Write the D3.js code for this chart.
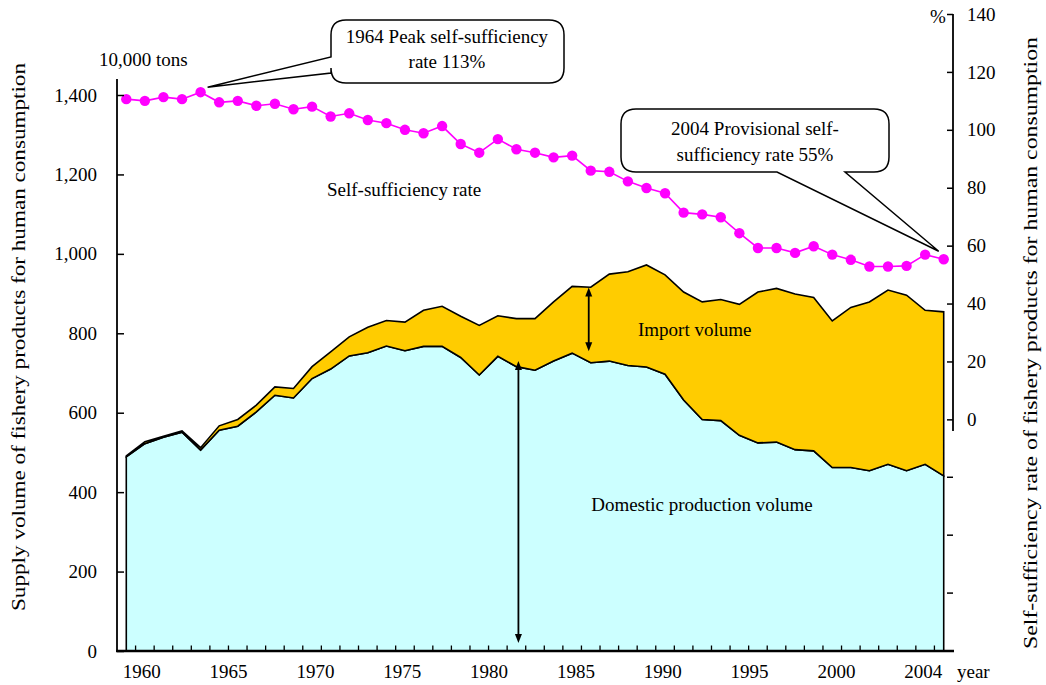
<!DOCTYPE html>
<html>
<head>
<meta charset="utf-8">
<script src="https://cdn.jsdelivr.net/npm/d3@7"></script>
<style>
  body { margin: 0; background: #fff; }
  svg { display: block; }
  text { font-family: "Liberation Serif", "Times New Roman", serif; font-size: 19px; fill: #000; }
</style>
</head>
<body>
<svg id="chart" width="1046" height="685"></svg>
<script>
// Categories (years)
const years = d3.range(1960, 2005);

// Domestic production volume (10,000 tons)
const domestic = [489, 522, 538, 551, 506, 556, 566, 602, 644, 637,
                  686, 710, 743, 751, 768, 756, 767, 767, 739, 695,
                  742, 716, 707, 730, 750, 726, 730, 719, 715, 697,
                  632, 583, 580, 543, 524, 526, 507, 504, 462, 462,
                  454, 470, 454, 470, 441];

// Import volume (10,000 tons), stacked on domestic
const imports = [2, 5, 3, 3, 6, 11, 17, 17, 21, 24,
                 30, 43, 48, 64, 64, 72, 91, 101, 104, 125,
                 102, 121, 130, 149, 168, 190, 219, 236, 257, 250,
                 272, 296, 305, 330, 380, 387, 392, 386, 369, 403,
                 425, 439, 442, 388, 413];

// Self-sufficiency rate (%)
const rate = [110.6, 110.0, 111.3, 110.6, 113.0, 109.5, 110.0, 108.3, 109.0, 107.1,
              108.0, 104.6, 105.7, 103.4, 102.3, 100.0, 98.8, 101.3, 95.1, 92.1,
              96.8, 93.3, 92.1, 90.5, 91.1, 85.9, 85.5, 82.2, 79.9, 78.1,
              71.4, 70.8, 69.8, 64.3, 59.2, 59.2, 57.5, 59.8, 56.9, 55.1,
              52.8, 52.8, 53.0, 56.9, 55.3];

// Tick labels
const xLabels = ['1960', '1965', '1970', '1975', '1980', '1985', '1990', '1995', '2000', '2004'];
const leftTicks = [0, 200, 400, 600, 800, 1000, 1200, 1400];
const rightTicks = [0, 20, 40, 60, 80, 100, 120, 140];
const rightMinorTicks = [-20, -40, -60];

const svg = d3.select('#chart');

// Scales
const x = d3.scaleBand().domain(years).range([117, 953]);
const xc = d => x(d) + x.bandwidth() / 2;
const yL = d3.scaleLinear().domain([0, 1400]).range([651, 95]);
const yR = d3.scaleLinear().domain([-80, 140]).range([651, 14]);
const xLab = d3.scalePoint().domain(xLabels).range([141.7, 923.3]);

// Stacked areas
const rows = years.map((yr, i) => ({ year: yr, domestic: domestic[i], imports: imports[i] }));
const series = d3.stack().keys(['domestic', 'imports'])(rows);
const fills = { domestic: '#CCFFFF', imports: '#FFCC00' };

const area = d3.area()
    .x(d => xc(d.data.year))
    .y0(d => yL(d[0]))
    .y1(d => yL(d[1]));

svg.append('g')
    .selectAll('path')
    .data(series)
    .enter()
    .append('path')
    .attr('d', area)
    .attr('fill', d => fills[d.key])
    .attr('stroke', '#000')
    .attr('stroke-width', 1.6)
    .attr('stroke-linejoin', 'miter');

// Arrow helper (double headed)
function arrow(x0, y0, y1) {
    const g = svg.append('g');
    const head = 9, half = 3.5;
    g.append('line')
        .attr('x1', x0).attr('x2', x0)
        .attr('y1', y0 + head - 1).attr('y2', y1 - head + 1)
        .attr('stroke', '#000').attr('stroke-width', 1.8);
    g.append('path')
        .attr('d', `M${x0},${y1} L${x0 - half},${y1 - head} L${x0 + half},${y1 - head} Z`)
        .attr('fill', '#000');
    g.append('path')
        .attr('d', `M${x0},${y0} L${x0 - half},${y0 + head} L${x0 + half},${y0 + head} Z`)
        .attr('fill', '#000');
}

// import volume indicator and domestic volume indicator
arrow(xc(1985) - 2, yL(915), yL(755));
arrow(xc(1981) + 2, yL(730), yL(20));

// Self-sufficiency line
const line = d3.line()
    .x((d, i) => xc(years[i]))
    .y(d => yR(d));

svg.append('path')
    .datum(rate)
    .attr('d', line)
    .attr('fill', 'none')
    .attr('stroke', '#FF00FF')
    .attr('stroke-width', 1.6);

svg.append('g')
    .selectAll('circle')
    .data(rate)
    .enter()
    .append('circle')
    .attr('cx', (d, i) => xc(years[i]))
    .attr('cy', d => yR(d))
    .attr('r', 5.2)
    .attr('fill', '#FF00FF');

// Left axis
svg.append('g')
    .attr('transform', 'translate(117,0)')
    .call(d3.axisLeft(yL)
        .tickValues(leftTicks)
        .tickFormat(d3.format(','))
        .tickSizeInner(-7)
        .tickSizeOuter(0)
        .tickPadding(20))
    .call(g => g.select('.domain').remove())
    .call(g => g.selectAll('.tick line').attr('stroke-width', 1.5));

svg.append('line')
    .attr('x1', 117).attr('x2', 117)
    .attr('y1', 79).attr('y2', 651)
    .attr('stroke', '#000').attr('stroke-width', 1.8);

// Right axis
svg.append('g')
    .attr('transform', 'translate(953,0)')
    .call(d3.axisRight(yR)
        .tickValues(rightTicks)
        .tickSizeInner(-6)
        .tickSizeOuter(0)
        .tickPadding(14))
    .call(g => g.select('.domain').remove())
    .call(g => g.selectAll('.tick line').attr('stroke-width', 1.5));

svg.append('line')
    .attr('x1', 953).attr('x2', 953)
    .attr('y1', yR(140)).attr('y2', yR(-4))
    .attr('stroke', '#000').attr('stroke-width', 1.8);

svg.append('g')
    .selectAll('line')
    .data(rightMinorTicks)
    .enter()
    .append('line')
    .attr('x1', 947).attr('x2', 953)
    .attr('y1', d => yR(d)).attr('y2', d => yR(d))
    .attr('stroke', '#000').attr('stroke-width', 1.5);

// Bottom axis
svg.append('g')
    .selectAll('line')
    .data(years.slice(1))
    .enter()
    .append('line')
    .attr('x1', d => x(d)).attr('x2', d => x(d))
    .attr('y1', 651).attr('y2', 645.5)
    .attr('stroke', '#000').attr('stroke-width', 1.3);

svg.append('line')
    .attr('x1', 116).attr('x2', 954)
    .attr('y1', 651).attr('y2', 651)
    .attr('stroke', '#000').attr('stroke-width', 2.6);

svg.append('g')
    .selectAll('text')
    .data(xLabels)
    .enter()
    .append('text')
    .attr('x', d => xLab(d))
    .attr('y', 678)
    .attr('text-anchor', 'middle')
    .text(d => d);

svg.append('text').attr('x', 957).attr('y', 678).text('year');
svg.append('text').attr('x', 99).attr('y', 66).text('10,000 tons');
svg.append('text').attr('x', 938).attr('y', 23).attr('text-anchor', 'middle').text('%');

// Axis titles (stretched along the axis as in the original)
svg.append('text')
    .attr('transform', 'translate(25,337) rotate(-90)')
    .attr('text-anchor', 'middle')
    .attr('textLength', 548)
    .attr('lengthAdjust', 'spacingAndGlyphs')
    .text('Supply volume of fishery products for human consumption');

svg.append('text')
    .attr('transform', 'translate(1037,343) rotate(-90)')
    .attr('text-anchor', 'middle')
    .attr('textLength', 612)
    .attr('lengthAdjust', 'spacingAndGlyphs')
    .text('Self-sufficiency rate of fishery products for human consumption');

// Series labels
svg.append('text').attr('x', 327).attr('y', 196).text('Self-sufficiency rate');
svg.append('text').attr('x', 638).attr('y', 336).text('Import volume');
svg.append('text').attr('x', 702).attr('y', 511).attr('text-anchor', 'middle').text('Domestic production volume');

// Callouts (speech bubbles)
function bubble(x0, y0, x1, y1, r, pointer) {
    let p = `M${x0 + r},${y0} H${x1 - r} Q${x1},${y0} ${x1},${y0 + r} V${y1 - r} Q${x1},${y1} ${x1 - r},${y1}`;
    if (pointer.side === 'bottom') {
        p += ` H${pointer.b} L${pointer.tx},${pointer.ty} L${pointer.a},${y1}`;
    }
    p += ` H${x0 + r} Q${x0},${y1} ${x0},${y1 - r}`;
    if (pointer.side === 'left') {
        p += ` V${pointer.b} L${pointer.tx},${pointer.ty} L${x0},${pointer.a}`;
    }
    p += ` V${y0 + r} Q${x0},${y0} ${x0 + r},${y0} Z`;
    svg.append('path')
        .attr('d', p)
        .attr('fill', '#fff')
        .attr('stroke', '#000')
        .attr('stroke-width', 1.5);
}

// 1964 peak
bubble(331, 20, 564, 83, 15, { side: 'left', a: 57, b: 73, tx: xc(1964) + 7, ty: yR(113) - 5 });
svg.append('text').attr('x', 447).attr('y', 43).attr('text-anchor', 'middle').text('1964 Peak self-sufficiency');
svg.append('text').attr('x', 447).attr('y', 68).attr('text-anchor', 'middle').text('rate 113%');

// 2004 provisional
bubble(621, 109, 889, 172, 15, { side: 'bottom', a: 777, b: 845, tx: xc(2004) - 5, ty: yR(55.3) - 8 });
svg.append('text').attr('x', 755).attr('y', 135).attr('text-anchor', 'middle').text('2004 Provisional self-');
svg.append('text').attr('x', 755).attr('y', 161).attr('text-anchor', 'middle').text('sufficiency rate 55%');
</script>
</body>
</html>
